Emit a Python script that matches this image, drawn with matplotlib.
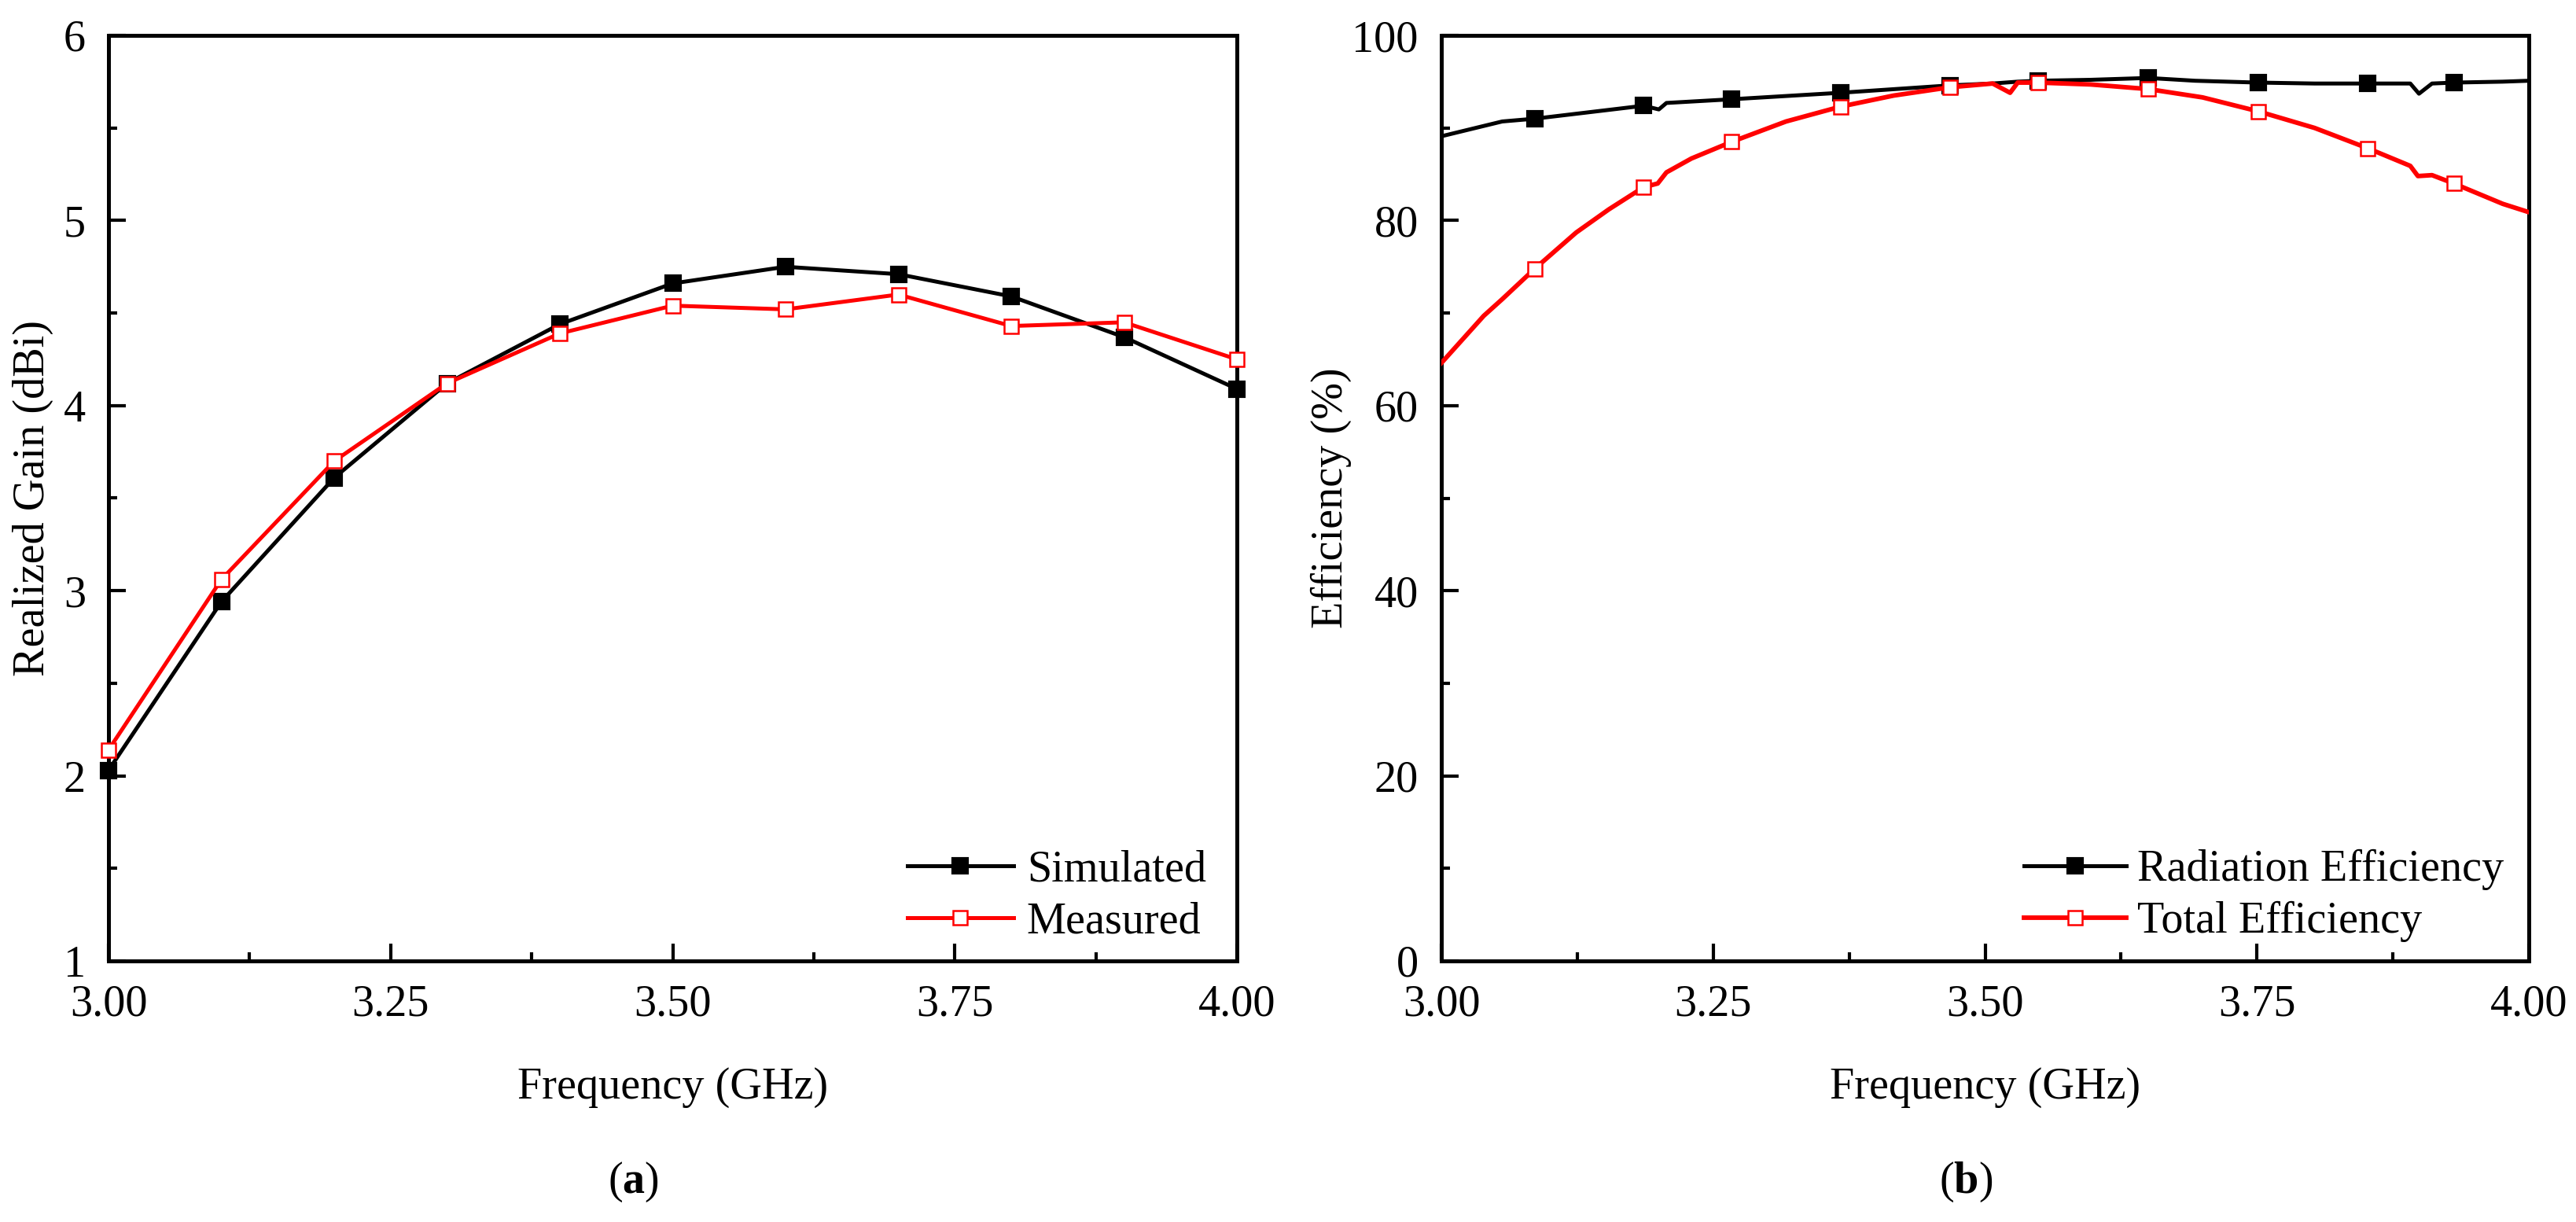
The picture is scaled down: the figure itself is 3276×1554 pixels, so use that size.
import matplotlib
matplotlib.use("Agg")
import matplotlib.pyplot as plt
from matplotlib.ticker import MultipleLocator, FormatStrFormatter

plt.rcParams['font.family'] = ['Liberation Serif', 'DejaVu Serif']
plt.rcParams['mathtext.fontset'] = 'custom'
plt.rcParams['mathtext.rm'] = 'Liberation Serif'
plt.rcParams['mathtext.bf'] = 'Liberation Serif:bold'

# ---------------- data: panel (a) ----------------
freq_gain = [3.0, 3.1, 3.2, 3.3, 3.4, 3.5, 3.6, 3.7, 3.8, 3.9, 4.0]
gain_sim = [2.03, 2.94, 3.61, 4.12, 4.44, 4.66, 4.75, 4.71, 4.59, 4.37, 4.09]
gain_meas = [2.14, 3.06, 3.70, 4.12, 4.39, 4.54, 4.52, 4.60, 4.43, 4.45, 4.25]

# ---------------- data: panel (b) ----------------
freq_rad = [3.000, 3.056, 3.086, 3.186, 3.200, 3.207, 3.267, 3.367, 3.468, 3.507,
            3.530, 3.549, 3.597, 3.650, 3.693, 3.751, 3.803, 3.852, 3.891, 3.899,
            3.911, 3.931, 3.976, 4.000]
rad_eff = [89.1, 90.7, 91.0, 92.4, 92.0, 92.7, 93.1, 93.8, 94.6, 94.8,
           95.0, 95.1, 95.2, 95.4, 95.1, 94.9, 94.8, 94.8, 94.8, 93.7,
           94.8, 94.9, 95.0, 95.1]
rad_marks = [2, 3, 6, 7, 8, 11, 13, 15, 17, 21]

freq_tot = [3.000, 3.039, 3.056, 3.086, 3.124, 3.154, 3.186, 3.199, 3.207, 3.230,
            3.267, 3.317, 3.367, 3.416, 3.468, 3.507, 3.523, 3.530, 3.549, 3.597,
            3.650, 3.700, 3.751, 3.803, 3.852, 3.891, 3.898, 3.911, 3.931, 3.976,
            4.000]
tot_eff = [64.6, 69.7, 71.5, 74.8, 78.7, 81.2, 83.6, 84.0, 85.2, 86.7,
           88.5, 90.7, 92.3, 93.5, 94.4, 94.8, 93.8, 94.9, 94.9, 94.7,
           94.2, 93.3, 91.8, 90.0, 87.8, 85.9, 84.8, 84.9, 84.0, 81.8,
           80.9]
tot_marks = [3, 6, 10, 12, 14, 18, 20, 22, 24, 28]

xticks = [3.00, 3.25, 3.50, 3.75, 4.00]

W, H = 3276, 1554
fig = plt.figure(figsize=(W / 300, H / 300), dpi=300)
FS = 13.5

ax1 = fig.add_axes([138 / W, 1 - 1222 / H, (1573 - 138) / W, (1222 - 45) / H])
ax2 = fig.add_axes([1833 / W, 1 - 1222 / H, (3216 - 1833) / W, (1222 - 45) / H])

lw = 1.2
ms = 4.2
ax1.plot(freq_gain, gain_sim, color='black', lw=lw, marker='s', ms=ms,
         mfc='black', mec='black', label='Simulated', clip_on=False, zorder=3)
ax1.plot(freq_gain, gain_meas, color='#FF0000', lw=lw, marker='s', ms=ms,
         mfc='white', mec='#FF0000', mew=0.6, label='Measured', clip_on=False, zorder=4)

ax2.plot(freq_rad, rad_eff, color='black', lw=lw, marker='s', ms=ms,
         markevery=rad_marks, mfc='black', mec='black',
         label='Radiation Efficiency', zorder=3)
ax2.plot(freq_tot, tot_eff, color='#FF0000', lw=1.4, marker='s', ms=ms,
         markevery=tot_marks, mfc='white', mec='#FF0000', mew=0.6,
         label='Total Efficiency', zorder=4)

for ax in (ax1, ax2):
    ax.set_xlim(3.0, 4.0)
    ax.set_xticks(xticks)
    ax.xaxis.set_minor_locator(MultipleLocator(0.125))
    ax.xaxis.set_major_formatter(FormatStrFormatter('%.2f'))
    ax.tick_params(which='both', direction='in', top=False, right=False,
                   labelsize=FS, width=1.0)
    ax.tick_params(which='major', length=5.2, pad=7)
    ax.tick_params(which='minor', length=2.7)
    for s in ax.spines.values():
        s.set_linewidth(1.2)
    ax.set_xlabel('Frequency (GHz)', fontsize=FS, labelpad=13)

ax1.set_ylim(1, 6)
ax1.yaxis.set_major_locator(MultipleLocator(1))
ax1.yaxis.set_minor_locator(MultipleLocator(0.5))
ax1.set_ylabel('Realized Gain (dBi)', fontsize=FS, labelpad=3)

ax2.set_ylim(0, 100)
ax2.yaxis.set_major_locator(MultipleLocator(20))
ax2.yaxis.set_minor_locator(MultipleLocator(10))
ax2.set_ylabel('Efficiency (%)', fontsize=FS, labelpad=0)

leg1 = ax1.legend(loc='lower left', bbox_to_anchor=(0.708, 0.02), frameon=False,
                  fontsize=FS, handlelength=2.4, handletextpad=0.3,
                  labelspacing=0.25, borderpad=0, borderaxespad=0)
leg2 = ax2.legend(loc='lower left', bbox_to_anchor=(0.536, 0.02), frameon=False,
                  fontsize=FS, handlelength=2.3, handletextpad=0.25,
                  labelspacing=0.25, borderpad=0, borderaxespad=0)

fig.text(805 / W, 1 - 1503 / H, r'($\mathbf{a}$)', fontsize=FS, ha='center', va='center')
fig.text(2500 / W, 1 - 1503 / H, r'($\mathbf{b}$)', fontsize=FS, ha='center', va='center')

fig.savefig('out.png', dpi=300)
